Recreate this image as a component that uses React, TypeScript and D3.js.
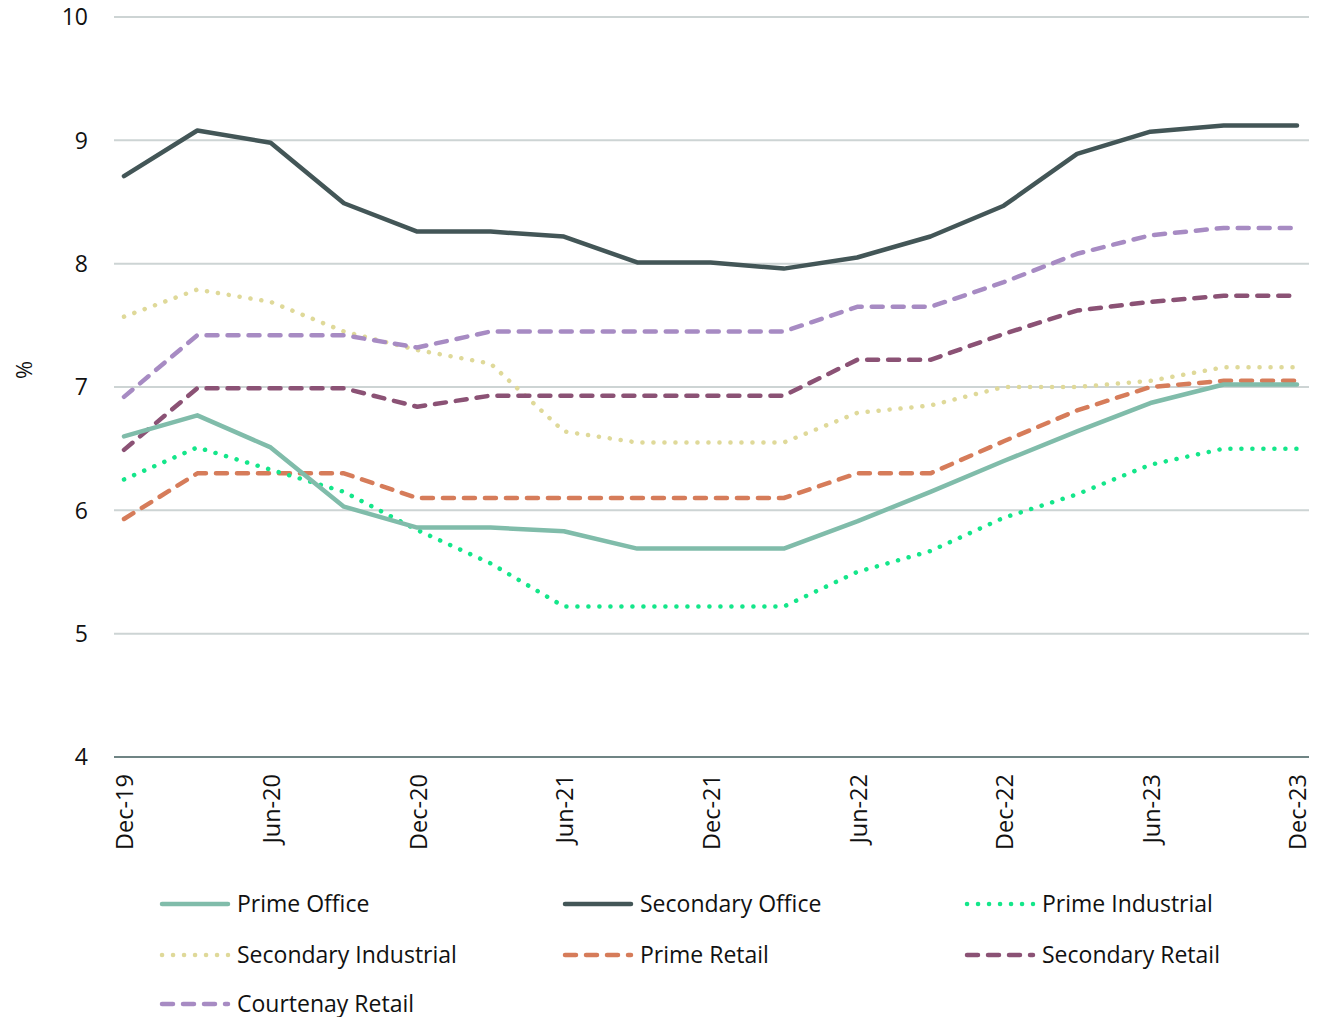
import React from "react";
import * as d3 from "d3";

const periods = [
  "Dec-19", "Mar-20", "Jun-20", "Sep-20", "Dec-20", "Mar-21", "Jun-21", "Sep-21", "Dec-21",
  "Mar-22", "Jun-22", "Sep-22", "Dec-22", "Mar-23", "Jun-23", "Sep-23", "Dec-23",
];
const tickPeriods = periods.filter((_, i) => i % 2 === 0);
const yTicks = [4, 5, 6, 7, 8, 9, 10];

const primeOffice = [6.6, 6.77, 6.51, 6.03, 5.86, 5.86, 5.83, 5.69, 5.69, 5.69, 5.91, 6.15, 6.4, 6.64, 6.87, 7.02, 7.02];
const secondaryOffice = [8.71, 9.08, 8.98, 8.49, 8.26, 8.26, 8.22, 8.01, 8.01, 7.96, 8.05, 8.22, 8.47, 8.89, 9.07, 9.12, 9.12];
const primeIndustrial = [6.25, 6.51, 6.33, 6.15, 5.84, 5.57, 5.22, 5.22, 5.22, 5.22, 5.5, 5.67, 5.94, 6.13, 6.37, 6.5, 6.5];
const secondaryIndustrial = [7.57, 7.79, 7.69, 7.45, 7.3, 7.19, 6.64, 6.55, 6.55, 6.55, 6.79, 6.85, 7.0, 7.0, 7.05, 7.16, 7.16];
const primeRetail = [5.93, 6.3, 6.3, 6.3, 6.1, 6.1, 6.1, 6.1, 6.1, 6.1, 6.3, 6.3, 6.56, 6.81, 7.0, 7.05, 7.05];
const secondaryRetail = [6.49, 6.99, 6.99, 6.99, 6.84, 6.93, 6.93, 6.93, 6.93, 6.93, 7.22, 7.22, 7.43, 7.62, 7.69, 7.74, 7.74];
const courtenayRetail = [6.92, 7.42, 7.42, 7.42, 7.32, 7.45, 7.45, 7.45, 7.45, 7.45, 7.65, 7.65, 7.85, 8.08, 8.23, 8.29, 8.29];

type Style = "solid" | "dot" | "dash";
const seriesNames = [
  "Prime Office", "Secondary Office", "Prime Industrial", "Secondary Industrial",
  "Prime Retail", "Secondary Retail", "Courtenay Retail",
];
const seriesValues = [
  primeOffice, secondaryOffice, primeIndustrial, secondaryIndustrial,
  primeRetail, secondaryRetail, courtenayRetail,
];
const seriesColors = ["#80bcaa", "#435657", "#14e68a", "#dfd999", "#d67c5a", "#8b5275", "#a78bc3"];
const seriesStyles: Style[] = ["solid", "solid", "dot", "dot", "dash", "dash", "dash"];
// draw order: back to front
const drawOrder = [3, 6, 5, 4, 2, 0, 1];

const W = 1319;
const H = 1017;
const FONT = "'Open Sans', Lato, sans-serif";

function dashFor(s: Style): string | undefined {
  if (s === "dot") return "0.1 10.9";
  if (s === "dash") return "11 10";
  return undefined;
}

export default function App() {
  const x = d3.scalePoint<string>().domain(periods).range([124, 1297]);
  const y = d3.scaleLinear().domain([4, 10]).range([757, 17]);
  const gridX0 = 114;
  const gridX1 = 1309;

  const line = d3
    .line<number>()
    .x((_, i) => x(periods[i]) as number)
    .y((d) => y(d));

  const legendCols = [160, 563, 965];
  const legendRows = [904, 955, 1004];

  return (
    <svg width={W} height={H} style={{ display: "block", position: "absolute", left: 0, top: 0 }}>
      <rect width={W} height={H} fill="#ffffff" />
      {/* gridlines */}
      {yTicks.filter((t) => t > 4).map((t) => (
        <line key={t} x1={gridX0} x2={gridX1} y1={y(t)} y2={y(t)} stroke="#cdd4d4" strokeWidth={2} />
      ))}
      {/* base axis */}
      <line x1={gridX0} x2={gridX1} y1={y(4)} y2={y(4)} stroke="#6f8484" strokeWidth={2} />
      {/* y tick labels */}
      {yTicks.map((t) => (
        <text key={t} x={88} y={y(t)} dy="0.36em" textAnchor="end" fontFamily={FONT} fontSize={23} fill="#111">
          {t}
        </text>
      ))}
      <text
        transform={`translate(32, ${370}) rotate(-90)`}
        textAnchor="middle"
        fontFamily={FONT}
        fontSize={22}
        fill="#111"
      >
        %
      </text>
      {/* x tick labels */}
      {tickPeriods.map((p) => (
        <text
          key={p}
          transform={`translate(${(x(p) as number) + 1}, 774) rotate(-90)`}
          textAnchor="end"
          dy="0.36em"
          fontFamily={FONT}
          fontSize={23.5}
          fill="#111"
        >
          {p}
        </text>
      ))}
      {/* series */}
      {drawOrder.map((k) => (
        <path
          key={seriesNames[k]}
          d={line(seriesValues[k]) || ""}
          fill="none"
          stroke={seriesColors[k]}
          strokeWidth={4.5}
          strokeDasharray={dashFor(seriesStyles[k])}
          strokeLinecap="round"
          strokeLinejoin="round"
        />
      ))}
      {/* legend */}
      {seriesNames.map((name, k) => {
        const lx = legendCols[k % 3];
        const ly = legendRows[Math.floor(k / 3)];
        return (
          <g key={name}>
            <line
              x1={lx + 2}
              x2={lx + 68}
              y1={ly}
              y2={ly}
              stroke={seriesColors[k]}
              strokeWidth={4.5}
              strokeDasharray={dashFor(seriesStyles[k])}
              strokeLinecap="round"
            />
            <text x={lx + 77} y={ly} dy="0.36em" fontFamily={FONT} fontSize={23} fill="#111">
              {name}
            </text>
          </g>
        );
      })}
    </svg>
  );
}
